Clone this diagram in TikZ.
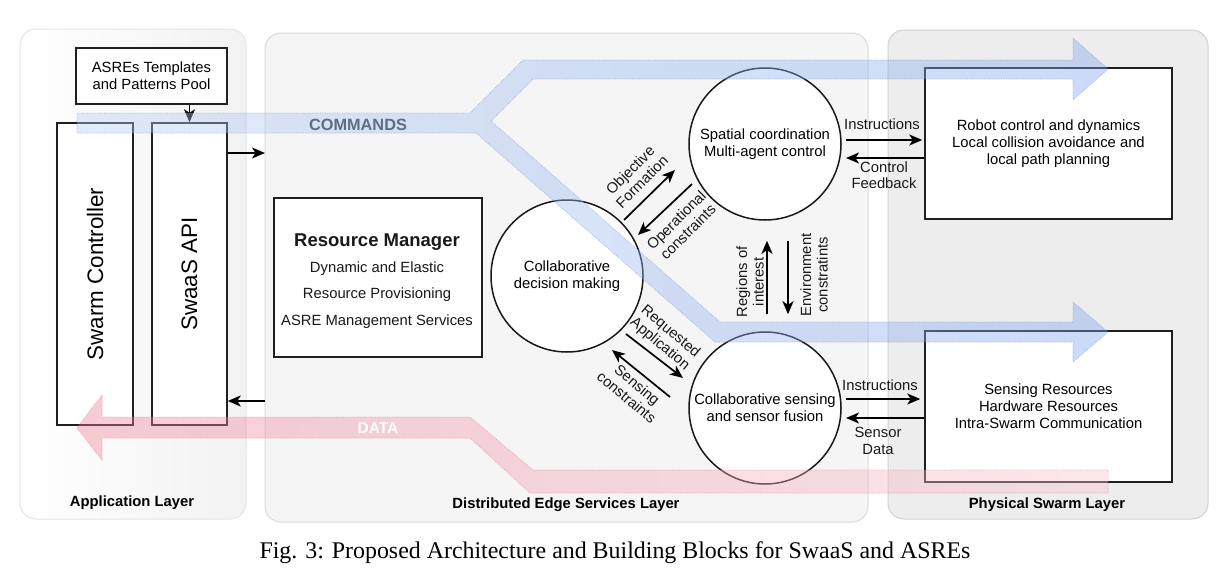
\documentclass[tikz,border=0pt]{standalone}
\usepackage{fontspec}
\setmainfont{Liberation Sans}
\newfontfamily\capfont{Liberation Serif}
\usetikzlibrary{arrows.meta,calc}
\definecolor{bandblue}{RGB}{126,165,235}
\definecolor{bandblueline}{RGB}{100,140,215}
\definecolor{bandred}{RGB}{240,128,150}
\definecolor{bandredline}{RGB}{225,110,130}
\definecolor{cmdtext}{RGB}{95,110,130}
\begin{document}
\begin{tikzpicture}[x=1pt,y=-1pt,
  box/.style={draw=black!88, line width=1.5pt, fill=white, inner sep=0pt, align=center, font=\fontsize{14.8}{17}\selectfont},
  circ/.style={circle, draw=black!90, line width=1.5pt, fill=white, minimum size=152pt, inner sep=0pt, align=center, font=\fontsize{14.8}{17}\selectfont},
  arr/.style={line width=1.7pt, draw=black, -{Stealth[length=13pt,width=11pt,inset=3.5pt]}},
  txt/.style={align=center, inner sep=0pt, font=\fontsize{14.8}{16.5}\selectfont, text=black!90},
  laylbl/.style={inner sep=0pt, font=\bfseries\fontsize{14.8}{17}\selectfont},
  layer/.style={rounded corners=16pt, line width=1pt},
  band/.style={densely dotted, line width=0.7pt, draw opacity=0.55, fill opacity=0.4}
]
\fill[white] (0,0) rectangle (1226,581);
\useasboundingbox (0,0) rectangle (1226,581);

% layers
\path[layer, draw=black!10, left color=white, right color=black!5] (20,29) rectangle (246,519);
\path[layer, draw=black!14, fill=black!4] (265,33) rectangle (868,522);
\path[layer, draw=black!18, fill=black!7] (888,30) rectangle (1208,519);
\node[laylbl] (lapp) at (132,503) {Application Layer};
\node[laylbl] (ledge) at (566,505) {Distributed Edge Services Layer};
\node[laylbl] (lphys) at (1047,505) {Physical Swarm Layer};

% application boxes
\node[box, minimum width=151pt, minimum height=56pt] (tpl) at (151.5,76) {ASREs Templates\\and Patterns Pool};
\node[box, minimum width=76pt, minimum height=302pt] (sc) at (95,274) {};
\node[rotate=90, inner sep=0pt, font=\fontsize{22.4}{26}\selectfont] (sctxt) at (sc.center) {Swarm Controller};
\node[box, minimum width=75pt, minimum height=302pt] (api) at (189.5,274) {};
\node[rotate=90, inner sep=0pt, font=\fontsize{22.4}{26}\selectfont] (apitxt) at (api.center) {SwaaS API};

% resource manager
\node[box, minimum width=208pt, minimum height=159pt] (rm) at (378,277.5) {};
\node[txt, font=\fontsize{14.8}{26.3}\selectfont] (rmtxt) at (377,281) {{\fontsize{18.5}{20}\selectfont\bfseries Resource Manager}\\Dynamic and Elastic\\Resource Provisioning\\ASRE Management Services};

% circles
\node[circ] (sp) at (765,144) {Spatial coordination\\Multi-agent control};
\node[circ] (cd) at (567,276) {Collaborative\\decision making};
\node[circ] (cs) at (765,408) {Collaborative sensing\\and sensor fusion};

% physical boxes
\node[box, minimum width=247pt, minimum height=151pt] (rb) at (1048.5,143.5) {Robot control and dynamics\\Local collision avoidance and\\local path planning};
\node[box, minimum width=247pt, minimum height=151pt] (sb) at (1048.5,406.5) {Sensing Resources\\Hardware Resources\\Intra-Swarm Communication};

% application arrows
\coordinate (cmdin) at (265,153);
\coordinate (datain) at (265,401);
\draw[arr] (api.east |- cmdin) -- (cmdin);
\draw[arr] (datain) -- (api.east |- datain);
\draw[arr] (tpl.south -| api.north) -- (api.north);

% circle to box arrows
\coordinate (i1) at (846,140);
\coordinate (f1) at (846,158);
\coordinate (i2) at (846,399);
\coordinate (f2) at (846,418);
\draw[arr, shorten >=2pt] (i1) -- (i1 -| rb.west);
\draw[arr] (f1 -| rb.west) -- (f1);
\draw[arr, shorten >=4pt] (i2) -- (i2 -| sb.west);
\draw[arr] (f2 -| sb.west) -- (f2);
\node[txt] (linstr1) at (882,124) {Instructions};
\node[txt] (lfeed) at (884,175) {Control\\Feedback};
\node[txt] (linstr2) at (880,385) {Instructions};
\node[txt] (lsens) at (878,441) {Sensor\\Data};

% vertical arrows
\draw[arr] ($(cs.north)+(2,-17)$) -- ($(sp.south)+(2,20)$);
\draw[arr] ($(sp.south)+(23,20)$) -- ($(cs.north)+(23,-17)$);
\node[txt, rotate=90] (lroi) at (750,282) {Regions of\\interest};
\node[txt, rotate=90] (lenv) at (814,275) {Environment\\constratints};

% diagonal arrows
\draw[arr] ($(cd.center)+(57,-56)$) -- ($(sp.center)+(-90,26)$);
\draw[arr] ($(sp.center)+(-73,40)$) -- ($(cd.center)+(71,-41)$);
\draw[arr] ($(cd.center)+(59,58)$) -- ($(cs.center)+(-82,-30)$);
\draw[arr] ($(cs.center)+(-95,-11)$) -- ($(cd.center)+(45,74)$);
\node[txt, rotate=45] (lobj) at (636,176) {Objective\\Formation};
\node[txt, rotate=45] (lop) at (682,226) {Operational\\constraints};
\node[txt, rotate=-40] (lreq) at (665,338) {Requested\\Application};
\node[txt, rotate=-40] (lsc) at (632,391) {Sensing\\constraints};

% bands
\path[band, left color=bandblue!55, right color=bandblue, draw=bandblueline]
  (77,113) -- (470,113) -- (523,60) -- (1073,60) -- (1073,38) -- (1108,69) -- (1073,100) -- (1073,79)
  -- (533,79) -- (491,121) -- (720,322) -- (1073,322) -- (1073,302) -- (1108,332) -- (1073,362)
  -- (1073,342) -- (715,342) -- (476,133) -- (77,133) -- cycle;
\path[band, left color=bandred, right color=bandred!45, draw=bandredline]
  (1108,470) -- (533,470) -- (470,417) -- (102,417) -- (102,395) -- (77,428) -- (102,460)
  -- (102,438) -- (470,438) -- (530,493) -- (1108,493) -- cycle;
\node[inner sep=0pt, font=\bfseries\fontsize{16.3}{18}\selectfont, text=cmdtext] (cmdlbl) at (358,125) {COMMANDS};
\node[inner sep=0pt, font=\bfseries\fontsize{15.5}{18}\selectfont, text=white] (datalbl) at (378,428) {DATA};

% caption
\node[inner sep=0pt, font=\capfont\fontsize{23.9}{26}\selectfont] (cap) at (615,553) {Fig. 3: Proposed Architecture and Building Blocks for SwaaS and ASREs};
\end{tikzpicture}
\end{document}
